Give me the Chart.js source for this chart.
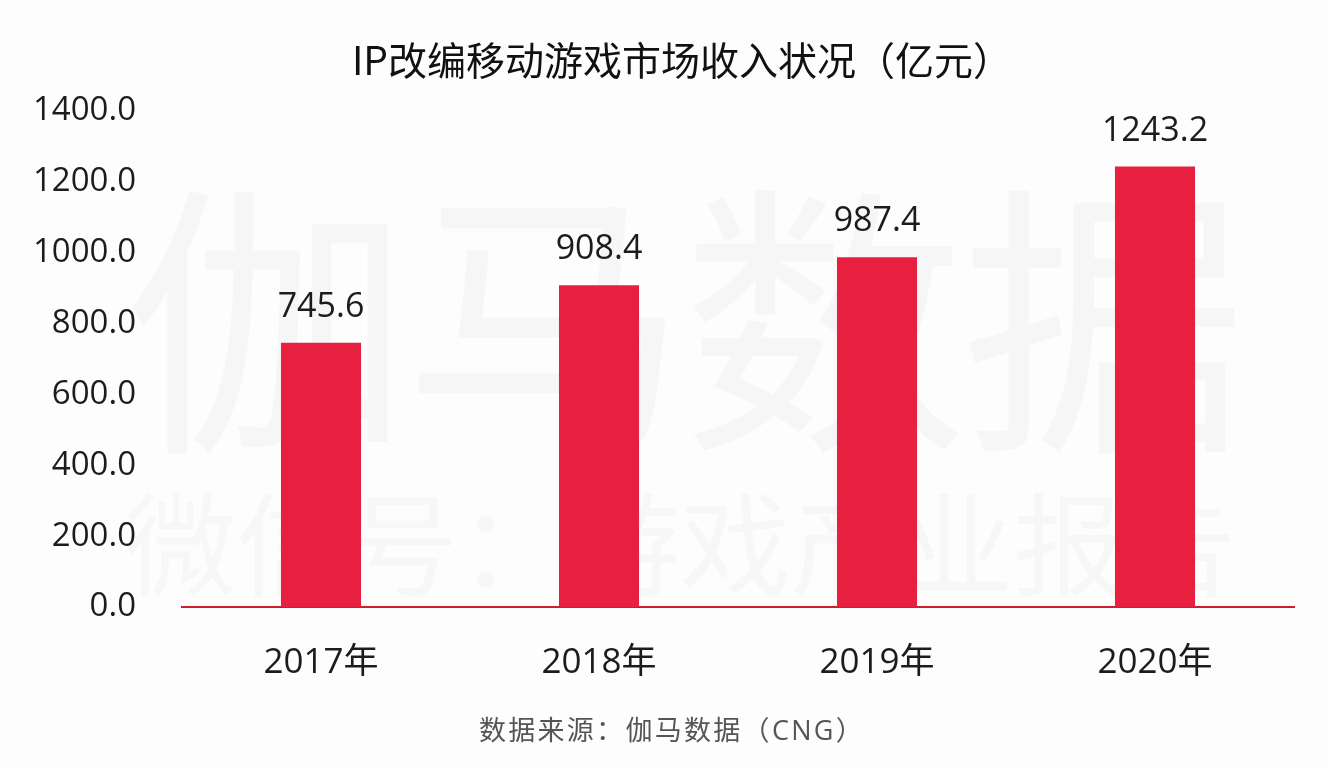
<!DOCTYPE html>
<html>
<head>
<meta charset="utf-8">
<style>
html, body { margin: 0; padding: 0; background: #fdfdfd; }
#wrap { position: relative; width: 1328px; height: 768px; overflow: hidden; }
canvas { position: absolute; left: 0; top: 0; }
.wm { position: absolute; font-family: "Noto Sans CJK SC"; white-space: nowrap; line-height: 1; }
</style>
<script src="https://cdn.jsdelivr.net/npm/chart.js@4"></script>
</head>
<body>
<div id="wrap">
  <div class="wm" style="left:124px;top:163px;font-size:285px;letter-spacing:-6px;color:#f6f6f7;">伽马数据</div>
  <div class="wm" style="left:125px;top:483px;font-size:111px;color:#f7f7f8;">微信号：游戏产业报告</div>
  <canvas id="chart" width="1328" height="768"></canvas>
</div>
<script>
const categories = ['2017年', '2018年', '2019年', '2020年'];
const revenue = [745.6, 908.4, 987.4, 1243.2];
const yTicks = [0, 200, 400, 600, 800, 1000, 1200, 1400];
const titleText = 'IP改编移动游戏市场收入状况（亿元）';
const sourceText = '数据来源：伽马数据（CNG）';

const fontFamily = '"Open Sans", "Noto Sans CJK SC", sans-serif';

// 标题、柱顶数值和底部来源
const barLabels = {
    id: 'barLabels',
    afterDatasetsDraw(chart) {
        const ctx = chart.ctx;
        const bars = chart.getDatasetMeta(0).data;
        ctx.save();
        ctx.textAlign = 'center';
        ctx.fillStyle = '#111';
        ctx.font = '39px "Noto Sans CJK SC", sans-serif';
        ctx.textBaseline = 'middle';
        ctx.fillText(titleText, 682, 60);

        ctx.fillStyle = '#1c1c1c';
        ctx.font = '34px ' + fontFamily;
        ctx.textBaseline = 'alphabetic';
        bars.forEach((bar, i) => {
            ctx.fillText(revenue[i].toFixed(1), bar.x, bar.y - 26);
        });

        ctx.fillStyle = '#555';
        ctx.font = '27px ' + fontFamily;
        ctx.letterSpacing = '2.3px';
        ctx.textBaseline = 'middle';
        ctx.fillText(sourceText, 672, 732);
        ctx.restore();
    }
};

new Chart(document.getElementById('chart'), {
    type: 'bar',
    data: {
        labels: categories,
        datasets: [{
            data: revenue,
            backgroundColor: '#e8203f',
            barPercentage: 1,
            categoryPercentage: 0.288
        }]
    },
    plugins: [barLabels],
    options: {
        responsive: false,
        animation: false,
        layout: { padding: { left: 0, right: 34, top: 111, bottom: 49 } },
        plugins: {
            legend: { display: false },
            tooltip: { enabled: false }
        },
        scales: {
            x: {
                grid: { display: false, drawTicks: false },
                border: { color: '#c8202f', width: 2 },
                ticks: {
                    color: '#1c1c1c',
                    padding: 35,
                    font: { family: fontFamily, size: 35 }
                }
            },
            y: {
                min: 0,
                max: 1400,
                afterBuildTicks(axis) {
                    axis.ticks = yTicks.map(v => ({ value: v }));
                },
                afterFit(axis) {
                    axis.width = 182;
                },
                grid: { display: false, drawTicks: false },
                border: { display: false },
                ticks: {
                    color: '#1c1c1c',
                    padding: 46,
                    callback: v => v.toFixed(1),
                    font: { family: fontFamily, size: 33 }
                }
            }
        }
    }
});
</script>
</body>
</html>
